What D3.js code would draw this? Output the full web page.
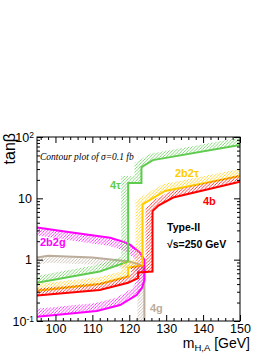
<!DOCTYPE html>
<html><head><meta charset="utf-8">
<script src="https://cdn.jsdelivr.net/npm/d3@7"></script>
<style>body{margin:0;background:#fff} svg{display:block}</style>
</head><body>
<svg id="c" width="273" height="353"></svg>
<script>
// ---- data ----
const xMajorTicks=[100,110,120,130,140,150];
const yMajorTicks=[0.1,1,10,100];
const yTickLabels=[["10","-1"],["1",""],["10",""],["10","2"]];

const tau4Mass=[95,112,119.7,119.7,123.3,123.3,126.4,150];
const tau4Tanb=[0.42,0.64,0.93,17.8,17.8,32.4,42,74];

const b2tau2Mass=[95,112,119.7,119.7,123.6,123.6,129.7,150];
const b2tau2Tanb=[0.31,0.40,0.53,0.74,0.80,8.0,13.2,23.1];

const b4Mass=[95,112,119.7,122.4,122.4,126.3,126.3,128,131.9,150];
const b4Tanb=[0.26,0.32,0.42,0.50,0.62,0.64,6.2,7.7,10.3,18.6];

const b2g2Mass=[95,103,114.8,118.5,120.2,122.9,124.1,124.1,123.5,122,117.5,111.2,95];
const b2g2Tanb=[3.35,2.85,2.27,1.95,1.76,1.30,1.0,0.47,0.35,0.265,0.182,0.146,0.117];

const g4Mass=[95,98,110,120,122.9,124.1,124.1];
const g4Tanb=[1.08,1.16,1.08,0.93,0.83,0.69,0.1];

// ---- layout ----
const L=37,R=240,T=137,B=321;
const svg=d3.select('#c');
const x=d3.scaleLinear().domain([95,150]).range([L,R]);
const y=d3.scaleLog().domain([0.1,100]).range([B,T]);
const font='"Liberation Sans", Arial, Helvetica, sans-serif';

const defs=svg.append('defs');
defs.append('clipPath').attr('id','plot').append('rect')
  .attr('x',L).attr('y',T).attr('width',R-L).attr('height',B-T);
function hatch(id,color){
  const p=defs.append('pattern').attr('id',id).attr('patternUnits','userSpaceOnUse')
    .attr('width',3.2).attr('height',3.2);
  p.append('path').attr('d','M-1,1 l2,-2 M0,3.2 l3.2,-3.2 M2.2,4.2 l2,-2')
    .attr('stroke',color).attr('stroke-width',0.75).attr('fill','none');
}

function offsetPts(pts,w,side){
  const n=pts.length,segN=[],out=[];
  for(let i=0;i<n-1;i++){
    let dx=pts[i+1][0]-pts[i][0],dy=pts[i+1][1]-pts[i][1];
    const l=Math.hypot(dx,dy)||1;dx/=l;dy/=l;
    segN.push([side*dy,-side*dx]);
  }
  for(let i=0;i<n;i++){
    const a=segN[Math.max(0,i-1)],b=segN[Math.min(n-2,i)];
    let mx=a[0]+b[0],my=a[1]+b[1];const l=Math.hypot(mx,my);
    if(l<1e-6){mx=b[0];my=b[1];}else{mx/=l;my/=l;}
    let c=mx*b[0]+my*b[1];if(c<0.35)c=0.35;
    out.push([pts[i][0]+mx*w/c,pts[i][1]+my*w/c]);
  }
  return out;
}

const g=svg.append('g').attr('clip-path','url(#plot)');
const line=d3.line();
function contour(mass,tanb,color,id,side,w){
  hatch(id,color);
  const pts=mass.map((m,i)=>[x(m),y(tanb[i])]);
  const off=offsetPts(pts,w,side);
  g.append('path').attr('d',line(pts.concat(off.slice().reverse()))+'Z')
    .attr('fill','url(#'+id+')').attr('stroke','none');
  g.append('path').attr('d',line(pts)).attr('fill','none')
    .attr('stroke',color).attr('stroke-width',2).attr('stroke-linejoin','miter');
}
const cGreen='#5ECB4E',cYellow='#FFCC00',cRed='#FF0000',cMag='#FF00FF',cGray='#BBAC9C';
contour(g4Mass,g4Tanb,cGray,'hg',-1,7);
contour(b2g2Mass,b2g2Tanb,cMag,'hm',-1,8);
contour(tau4Mass,tau4Tanb,cGreen,'hgr',1,7);
contour(b2tau2Mass,b2tau2Tanb,cYellow,'hy',1,7);
contour(b4Mass,b4Tanb,cRed,'hr',1,7);

// ---- frame & axes ----
svg.append('rect').attr('x',L).attr('y',T).attr('width',R-L).attr('height',B-T)
  .attr('fill','none').attr('stroke','#000').attr('stroke-width',1);

const xMinor=d3.range(96,150.1,2).filter(v=>v%10!==0);
const yMinor=[];[0.1,1,10].forEach(d=>{for(let k=2;k<=9;k++)yMinor.push(d*k);});

function styleAxis(sel){sel.select('.domain').remove();sel.selectAll('line').attr('stroke','#000');}
svg.append('g').attr('transform',`translate(0,${B})`)
  .call(d3.axisBottom(x).tickValues(xMajorTicks).tickSizeInner(-6).tickSizeOuter(0).tickPadding(3))
  .call(styleAxis).selectAll('text').attr('font-family',font).attr('font-size',12.5).attr('fill','#000');
svg.append('g').attr('transform',`translate(0,${B})`)
  .call(d3.axisBottom(x).tickValues(xMinor).tickSizeInner(-3).tickSizeOuter(0).tickFormat(''))
  .call(styleAxis);
svg.append('g').attr('transform',`translate(0,${T})`)
  .call(d3.axisTop(x).tickValues(xMajorTicks).tickSizeInner(-6).tickSizeOuter(0).tickFormat(''))
  .call(styleAxis);
svg.append('g').attr('transform',`translate(0,${T})`)
  .call(d3.axisTop(x).tickValues(xMinor).tickSizeInner(-3).tickSizeOuter(0).tickFormat(''))
  .call(styleAxis);
[[L,d3.axisLeft],[R,d3.axisRight]].forEach(([px,ax])=>{
  svg.append('g').attr('transform',`translate(${px},0)`)
    .call(ax(y).tickValues(yMajorTicks).tickSizeInner(-6).tickSizeOuter(0).tickFormat(''))
    .call(styleAxis);
  svg.append('g').attr('transform',`translate(${px},0)`)
    .call(ax(y).tickValues(yMinor).tickSizeInner(-3).tickSizeOuter(0).tickFormat(''))
    .call(styleAxis);
});
// y tick labels with superscripts
yMajorTicks.forEach((v,i)=>{
  const [base,sup]=yTickLabels[i];
  const t=svg.append('text').attr('x',sup? L-3:L-5).attr('y',y(v)).attr('dy','0.36em')
    .attr('text-anchor','end').attr('font-family',font).attr('font-size',12.5).attr('fill','#000');
  t.append('tspan').text(base);
  if(sup) t.append('tspan').attr('dy','-0.45em').attr('font-size',8.5).text(sup);
});

// axis titles
const xt=svg.append('text').attr('x',250).attr('y',348).attr('text-anchor','end')
  .attr('font-family',font).attr('font-size',14).attr('fill','#000');
xt.append('tspan').text('m');
xt.append('tspan').attr('dy',3).attr('font-size',9.5).text('H,A');
xt.append('tspan').attr('dy',-3).text(' [GeV]');
svg.append('text').attr('transform','translate(15,133) rotate(-90)').attr('text-anchor','end')
  .attr('font-family',font).attr('font-size',16).attr('fill','#000').text('tanβ');

// annotations
svg.append('text').attr('x',40).attr('y',160).attr('font-family','"Liberation Serif", "Times New Roman", serif')
  .attr('font-style','italic').attr('font-size',9.5).attr('fill','#000').text('Contour plot of σ=0.1 fb');
function lab(t,px,py,col,fs){svg.append('text').attr('x',px).attr('y',py).attr('font-family',font)
  .attr('font-weight','bold').attr('font-size',fs||11).attr('fill',col).text(t);}
lab('4τ',110,189,cGreen);
lab('2b2τ',175,177,cYellow);
lab('4b',203,205,cRed);
lab('2b2g',40,246,cMag);
lab('4g',150,312,cGray);
lab('Type-II',167,231,'#000',10.5);
lab('√s=250 GeV',167,248,'#000',10.5);
</script>
</body></html>
